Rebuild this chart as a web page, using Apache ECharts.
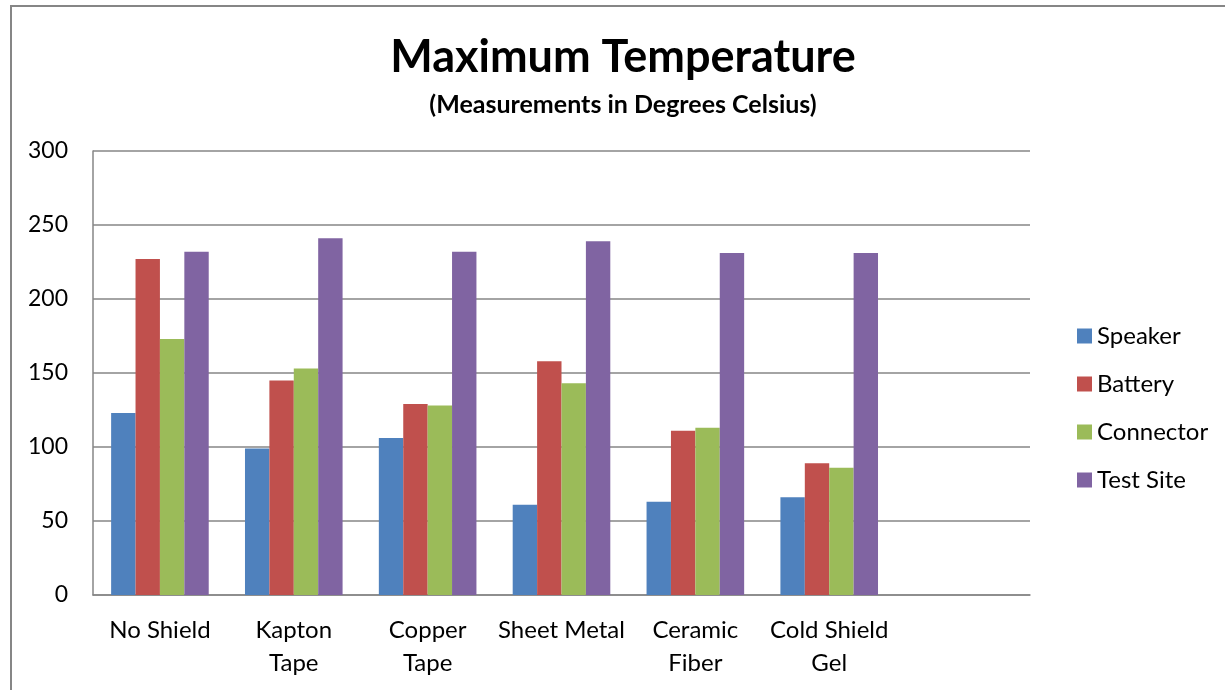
<!DOCTYPE html>
<html>
<head>
<meta charset="utf-8">
<script src="https://cdn.jsdelivr.net/npm/echarts@6/dist/echarts.min.js"></script>
<style>
html,body{margin:0;padding:0;background:#fff;}
#chart{width:1225px;height:690px;}
</style>
</head>
<body>
<div id="chart"></div>
<script>
const categories = ['No Shield', 'Kapton Tape', 'Copper Tape', 'Sheet Metal', 'Ceramic Fiber', 'Cold Shield Gel', ''];
const tickLabels = ['No Shield', 'Kapton\nTape', 'Copper\nTape', 'Sheet Metal', 'Ceramic\nFiber', 'Cold Shield\nGel', ''];
const speaker   = [123, 99, 106, 61, 63, 66];
const battery   = [227, 145, 129, 158, 111, 89];
const connector = [173, 153, 128, 143, 113, 86];
const testSite  = [232, 241, 232, 239, 231, 231];
const seriesNames = ['Speaker', 'Battery', 'Connector', 'Test Site'];
const colors = ['#4F81BD', '#C0504D', '#9BBB59', '#8064A2'];

const FONT = 'Lato, "Open Sans", sans-serif';
const chart = echarts.init(document.getElementById('chart'), null, {renderer: 'canvas'});
const seriesData = [speaker, battery, connector, testSite];

chart.setOption({
  animation: false,
  backgroundColor: '#fff',
  textStyle: {fontFamily: FONT},
  graphic: [{
    type: 'rect',
    shape: {x: 11, y: 6, width: 1240, height: 720},
    style: {fill: 'none', stroke: '#868686', lineWidth: 2},
    silent: true
  }],
  title: {
    text: 'Maximum Temperature',
    subtext: '(Measurements in Degrees Celsius)',
    left: 618,
    textAlign: 'center',
    top: 30,
    itemGap: 12,
    textStyle: {fontFamily: FONT, fontSize: 45, fontWeight: 'bold', color: '#000'},
    subtextStyle: {fontFamily: FONT, fontSize: 25, fontWeight: 'bold', color: '#000'}
  },
  legend: {
    orient: 'vertical',
    left: 1072,
    top: 319,
    itemWidth: 15,
    itemHeight: 15,
    itemGap: 24,
    icon: 'rect',
    data: seriesNames,
    textStyle: {fontFamily: FONT, fontSize: 24, color: '#000', lineHeight: 24}
  },
  grid: {left: 93, top: 151, width: 937, height: 444, containLabel: false},
  xAxis: {
    type: 'category',
    data: categories,
    axisLine: {lineStyle: {color: '#868686', width: 1.5}},
    axisTick: {show: false},
    axisLabel: {
      fontFamily: FONT, fontSize: 24, color: '#000', lineHeight: 33, margin: 19,
      interval: 0,
      formatter: (v, i) => tickLabels[i]
    }
  },
  yAxis: {
    type: 'value',
    min: 0, max: 300, interval: 50,
    axisLine: {show: true, lineStyle: {color: '#868686', width: 1.5}},
    axisTick: {show: false},
    splitLine: {lineStyle: {color: '#868686', width: 1.5}},
    axisLabel: {fontFamily: FONT, fontSize: 23, color: '#000', margin: 25}
  },
  series: seriesNames.map((n, i) => ({
    name: n,
    type: 'bar',
    data: seriesData[i],
    barWidth: 24.4,
    barGap: '0%',
    itemStyle: {color: colors[i]}
  }))
});
</script>
</body>
</html>
